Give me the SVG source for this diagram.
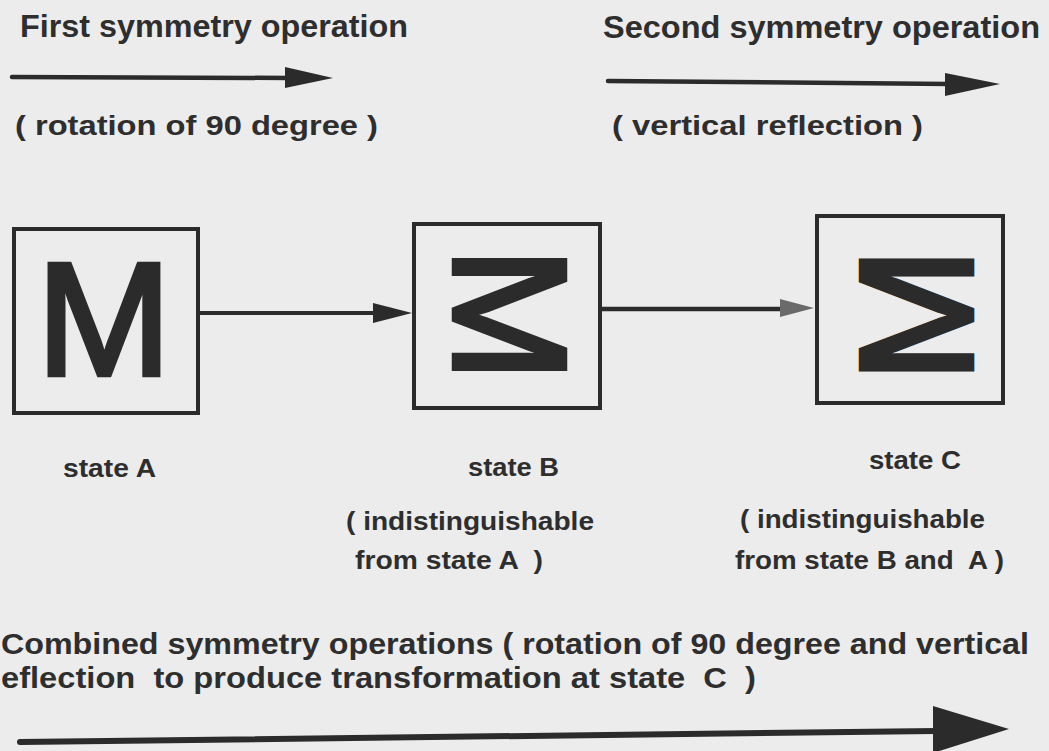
<svg xmlns="http://www.w3.org/2000/svg" width="1049" height="751" viewBox="0 0 1049 751">
<style>
  .bg { fill: #ececec; }
  .t { font-family: "Liberation Sans", Arial, sans-serif; font-weight: bold; fill: #2e2e2e; white-space: pre; }
  .h { font-size: 31px; }
  .s { font-size: 28px; }
  .l { font-size: 25px; }
  .b { font-size: 29px; }
  .box { fill: none; stroke: #2b2b2b; stroke-width: 4; }
  .glyph { font-family: "Liberation Sans", Arial, sans-serif; font-size: 162px; fill: #2b2b2b; stroke: #2b2b2b; stroke-width: 4.5; stroke-linejoin: miter; stroke-miterlimit: 3; text-anchor: middle; }
  .ln { stroke: #2b2b2b; fill: none; stroke-linecap: round; }
  .hd { fill: #2b2b2b; }
</style>
<rect class="bg" x="0" y="0" width="1049" height="751"/>

<g id="title-first">
  <text class="t h" x="20" y="37" textLength="388" lengthAdjust="spacingAndGlyphs">First symmetry operation</text>
  <text class="t s" x="15" y="135" textLength="363" lengthAdjust="spacingAndGlyphs">( rotation of 90 degree )</text>
</g>
<g id="title-second">
  <text class="t h" x="603" y="38" textLength="437" lengthAdjust="spacingAndGlyphs">Second symmetry operation</text>
  <text class="t s" x="612" y="135" textLength="311" lengthAdjust="spacingAndGlyphs">( vertical reflection )</text>
</g>

<g id="stateA">
  <rect class="box" x="14" y="229" width="184" height="184"/>
  <text class="glyph" x="104" y="375">M</text>
  <text class="t l" x="63" y="477" textLength="93" lengthAdjust="spacingAndGlyphs">state A</text>
</g>

<g id="stateB">
  <rect class="box" x="414" y="224" width="186" height="184"/>
  <text class="glyph" x="0" y="58" transform="translate(511.5 314.5) rotate(90)">M</text>
  <text class="t l" x="468" y="476" textLength="91" lengthAdjust="spacingAndGlyphs">state B</text>
  <text class="t l" x="346" y="530" textLength="248" lengthAdjust="spacingAndGlyphs">( indistinguishable</text>
  <text class="t l" x="355" y="569" textLength="188" lengthAdjust="spacingAndGlyphs">from state A  )</text>
</g>

<g id="stateC">
  <rect class="box" x="817" y="216" width="186" height="187"/>
  <text class="glyph" x="0" y="58" transform="translate(914 315) scale(-1 1) rotate(90)">M</text>
  <text class="t l" x="869" y="469" textLength="92" lengthAdjust="spacingAndGlyphs">state C</text>
  <text class="t l" x="740" y="528" textLength="245" lengthAdjust="spacingAndGlyphs">( indistinguishable</text>
  <text class="t l" x="735" y="569" textLength="269" lengthAdjust="spacingAndGlyphs">from state B and  A )</text>
</g>

<g id="combined-caption">
  <text class="t b" x="1" y="654" textLength="1028" lengthAdjust="spacingAndGlyphs">Combined symmetry operations ( rotation of 90 degree and vertical</text>
  <text class="t b" x="1" y="688" textLength="755" lengthAdjust="spacingAndGlyphs">eflection  to produce transformation at state  C  )</text>
</g>

<g id="connectors">
  <line class="ln" x1="12" y1="77" x2="290" y2="78" stroke-width="4.5"/>
  <polygon class="hd" points="285,67 333,78 285,88"/>
  <line class="ln" x1="608" y1="81" x2="950" y2="84" stroke-width="4.5"/>
  <polygon class="hd" points="945,73 1000,84 945,96"/>
  <line class="ln" x1="200" y1="313" x2="376" y2="313" stroke-width="4"/>
  <polygon class="hd" points="373,303 412,313 373,323"/>
  <line class="ln" x1="602" y1="309" x2="790" y2="309" stroke-width="4.5"/>
  <polygon points="780,299 814,308 780,317" fill="#6a6a6a"/>
  <line class="ln" x1="20" y1="742" x2="936" y2="731" stroke-width="6"/>
  <polygon class="hd" points="933,706 1009,729 933,753"/>
</g>
</svg>
